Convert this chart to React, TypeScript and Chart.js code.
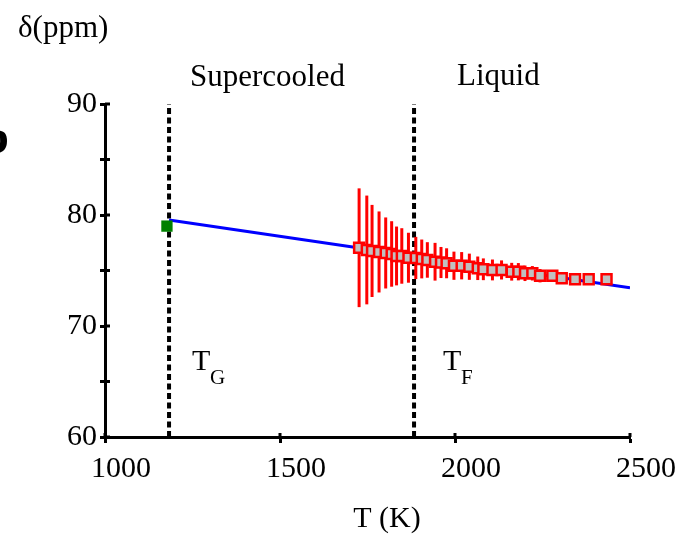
import React, { useEffect, useRef } from 'react';
import { Chart, registerables } from 'chart.js';

Chart.register(...registerables);

// ---- data ----
const temperatures = [1726, 1748, 1763, 1783, 1802, 1819, 1833, 1848, 1867, 1888, 1905, 1921, 1943, 1960, 1976, 1997, 2019, 2041, 2065, 2081, 2107, 2133, 2162, 2181, 2200, 2221, 2243, 2278, 2305, 2343, 2382, 2433];
const shifts = [77.05, 76.85, 76.76, 76.67, 76.58, 76.49, 76.31, 76.31, 76.15, 76.13, 76.04, 75.95, 75.79, 75.72, 75.65, 75.43, 75.43, 75.34, 75.2, 75.11, 75.05, 75.05, 74.89, 74.89, 74.75, 74.75, 74.53, 74.53, 74.3, 74.21, 74.21, 74.21];
const errors = [5.35, 4.9, 4.15, 3.65, 3.2, 2.95, 2.65, 2.5, 2.25, 1.9, 1.75, 1.6, 1.7, 1.4, 1.35, 1.27, 1.23, 1.18, 1.06, 0.98, 0.94, 0.86, 0.8, 0.78, 0.7, 0.65, 0.6, 0.5, 0.45, 0.4, 0.35, 0.3];
const glassT = [1177];
const glassShift = [79.0];
const fitT = [1183, 2500];
const fitShift = [79.55, 73.45];
const tGlass = 1183;
const tFusion = 1883;
const xRange = [1000, 2500];
const yRange = [60, 90];

const SERIF = "'Liberation Serif', 'Times New Roman', serif";

const errorBarPlugin = {
  id: 'errorBars',
  beforeDatasetDraw(chart: any, args: any) {
    if (args.index !== 0) return;
    const { ctx, scales } = chart;
    ctx.save();
    ctx.strokeStyle = '#ff0000';
    ctx.lineWidth = 3;
    temperatures.forEach((t, i) => {
      const x = scales.x.getPixelForValue(t);
      const y1 = scales.y.getPixelForValue(shifts[i] + errors[i]);
      const y2 = scales.y.getPixelForValue(shifts[i] - errors[i]);
      ctx.beginPath();
      ctx.moveTo(x, y1);
      ctx.lineTo(x, y2);
      ctx.stroke();
    });
    ctx.restore();
  },
};

const decorPlugin = {
  id: 'decor',
  afterDraw(chart: any) {
    const { ctx, scales, chartArea } = chart;
    ctx.save();
    ctx.strokeStyle = '#000';
    ctx.lineWidth = 3;
    scales.y.ticks.forEach((tk: any) => {
      const y = scales.y.getPixelForValue(tk.value);
      ctx.beginPath();
      ctx.moveTo(chartArea.left, y);
      ctx.lineTo(chartArea.left + 5, y);
      ctx.stroke();
    });
    scales.x.ticks.forEach((tk: any) => {
      const x = scales.x.getPixelForValue(tk.value);
      ctx.beginPath();
      ctx.moveTo(x, chartArea.bottom);
      ctx.lineTo(x, chartArea.bottom - 4);
      ctx.stroke();
    });
    ctx.fillStyle = '#000';
    ctx.textBaseline = 'alphabetic';
    ctx.textAlign = 'left';
    ctx.font = `31px ${SERIF}`;
    ctx.fillText('δ(ppm)', 18, 37);
    ctx.fillText('Supercooled', 190, 86);
    ctx.fillText('Liquid', 457, 85);
    ctx.font = `30px ${SERIF}`;
    ctx.fillText('T', 192, 370);
    ctx.fillText('T', 443, 370);
    ctx.font = `21px ${SERIF}`;
    ctx.fillText('G', 210, 384);
    ctx.fillText('F', 461, 384);
    ctx.font = `30px ${SERIF}`;
    ctx.textAlign = 'center';
    ctx.fillText('T (K)', 387, 527);
    ctx.font = `bold 48px ${SERIF}`;
    ctx.textAlign = 'right';
    ctx.fillText('b', 9, 153);
    ctx.restore();
  },
};

export default function App() {
  const ref = useRef<HTMLCanvasElement | null>(null);
  useEffect(() => {
    if (!ref.current) return;
    Chart.defaults.font.family = SERIF;
    const chart = new Chart(ref.current, {
      type: 'scatter',
      data: {
        datasets: [
          {
            label: 'measured',
            data: temperatures.map((t, i) => ({ x: t, y: shifts[i] })),
            pointStyle: 'rect',
            pointRadius: 7,
            pointBorderWidth: 2.5,
            borderColor: '#ff0000',
            backgroundColor: '#c0c0c0',
            showLine: false,
            order: 0,
          },
          {
            label: 'glass',
            data: glassT.map((t, i) => ({ x: t, y: glassShift[i] })),
            pointStyle: 'rect',
            pointRadius: 8,
            pointBorderWidth: 0,
            borderColor: '#008000',
            backgroundColor: '#008000',
            showLine: false,
            order: 1,
          },
          {
            label: 'fit',
            data: fitT.map((t, i) => ({ x: t, y: fitShift[i] })),
            showLine: true,
            pointRadius: 0,
            borderColor: '#0000ff',
            borderWidth: 3,
            order: 2,
          },
          {
            label: 'TG',
            data: [{ x: tGlass, y: yRange[0] }, { x: tGlass, y: yRange[1] }],
            showLine: true,
            pointRadius: 0,
            borderColor: '#000',
            borderWidth: 4,
            borderDash: [6, 3.5],
            order: 3,
          },
          {
            label: 'TF',
            data: [{ x: tFusion, y: yRange[0] }, { x: tFusion, y: yRange[1] }],
            showLine: true,
            pointRadius: 0,
            borderColor: '#000',
            borderWidth: 4,
            borderDash: [6, 3.5],
            order: 3,
          },
        ],
      },
      options: {
        responsive: false,
        animation: false,
        devicePixelRatio: 1,
        layout: { padding: { top: 104, right: 52, left: 0, bottom: 0 } },
        plugins: { legend: { display: false }, tooltip: { enabled: false } },
        scales: {
          x: {
            type: 'linear',
            min: xRange[0],
            max: xRange[1],
            ticks: {
              stepSize: 500,
              labelOffset: 16,
              padding: 8,
              color: '#000',
              font: { size: 30, family: SERIF },
              callback: (v: any) => String(v),
            },
            grid: { drawOnChartArea: false, drawTicks: true, tickLength: 6, tickWidth: 3, tickColor: '#000', color: '#000' },
            border: { display: true, color: '#000', width: 3 },
            afterFit: (s: any) => { s.height = 98; },
          },
          y: {
            type: 'linear',
            min: yRange[0],
            max: yRange[1],
            ticks: {
              stepSize: 5,
              autoSkip: false,
              padding: 3,
              color: '#000',
              font: { size: 30, family: SERIF },
              callback: (v: any) => (Number(v) % 10 === 0 ? String(v) : ''),
            },
            grid: { drawOnChartArea: false, drawTicks: true, tickLength: 5, tickWidth: 3, tickColor: '#000', color: '#000' },
            border: { display: true, color: '#000', width: 3 },
            afterFit: (s: any) => { s.width = 105; },
          },
        },
      },
      plugins: [errorBarPlugin, decorPlugin],
    } as any);
    return () => chart.destroy();
  }, []);
  return (
    <div style={{ position: 'absolute', left: 0, top: 0, width: 682, height: 535, background: '#fff' }}>
      <canvas ref={ref} width={682} height={535} />
    </div>
  );
}
